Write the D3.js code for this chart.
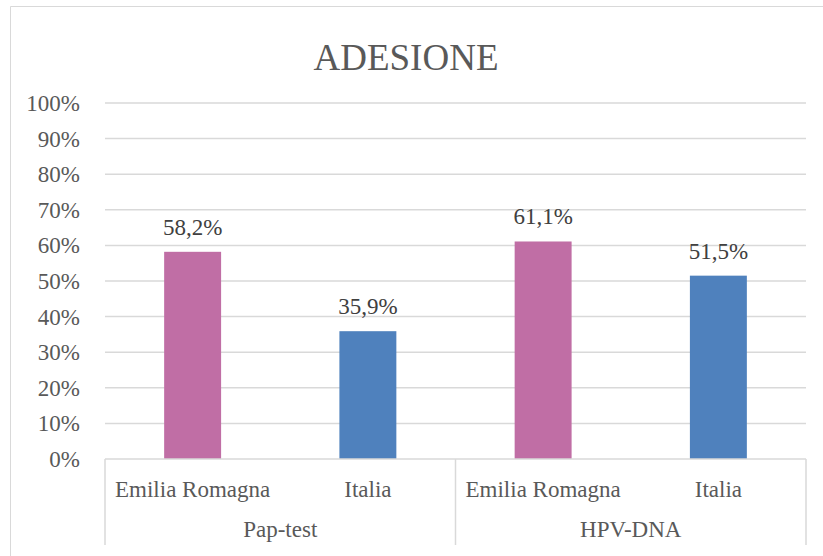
<!DOCTYPE html>
<html>
<head>
<meta charset="utf-8">
<script src="https://cdn.jsdelivr.net/npm/d3@7"></script>
<style>
  body { margin: 0; background: #fff; }
</style>
</head>
<body>
<div id="chart"></div>
<script>
const groups = ["Pap-test", "HPV-DNA"];
const regions = ["Emilia Romagna", "Italia"];
const values = [
    { group: "Pap-test", region: "Emilia Romagna", value: 58.2 },
    { group: "Pap-test", region: "Italia", value: 35.9 },
    { group: "HPV-DNA", region: "Emilia Romagna", value: 61.1 },
    { group: "HPV-DNA", region: "Italia", value: 51.5 }
];
const yTicks = [0, 10, 20, 30, 40, 50, 60, 70, 80, 90, 100];
const colors = { "Emilia Romagna": "#c06ea5", "Italia": "#4f81bd" };

const width = 823, height = 556;
const plotLeft = 105, plotRight = 806, plotTop = 103, plotBottom = 459;
const serif = "'Times New Roman', 'Liberation Serif', 'DejaVu Serif', serif";

const svg = d3.select("#chart").append("svg")
    .attr("width", width)
    .attr("height", height)
    .style("font-family", serif);

// outer frame
svg.append("path")
    .attr("d", `M10.5,${height} V6.5 H${width}`)
    .attr("fill", "none")
    .attr("stroke", "#d9d9d9")
    .attr("stroke-width", 1);

svg.append("text")
    .attr("x", 406)
    .attr("y", 70)
    .attr("text-anchor", "middle")
    .attr("fill", "#595959")
    .style("font-family", serif)
    .style("font-size", "37px")
    .text("ADESIONE");

const x0 = d3.scaleBand().domain(groups).range([plotLeft, plotRight]);
const x1 = d3.scaleBand().domain(regions).range([0, x0.bandwidth()]).paddingInner(0.675).paddingOuter(0.3375);
const y = d3.scaleLinear().domain([0, 100]).range([plotBottom, plotTop]);

// gridlines
svg.append("g")
    .selectAll("line")
    .data(yTicks.slice(1))
    .join("line")
    .attr("x1", plotLeft).attr("x2", plotRight)
    .attr("y1", d => y(d)).attr("y2", d => y(d))
    .attr("stroke", "#d9d9d9")
    .attr("stroke-width", 1.5);

// y labels
svg.append("g")
    .selectAll("text")
    .data(yTicks)
    .join("text")
    .attr("x", 80)
    .attr("y", d => y(d) + 8)
    .attr("text-anchor", "end")
    .attr("fill", "#595959")
    .style("font-family", serif)
    .style("font-size", "23px")
    .text(d => d + "%");

// bars
const bx = d => x0(d.group) + x1(d.region);
svg.append("g")
    .selectAll("rect")
    .data(values)
    .join("rect")
    .attr("x", bx)
    .attr("y", d => y(d.value))
    .attr("width", x1.bandwidth())
    .attr("height", d => y(0) - y(d.value))
    .attr("fill", d => colors[d.region]);

// value labels
svg.append("g")
    .selectAll("text")
    .data(values)
    .join("text")
    .attr("x", d => bx(d) + x1.bandwidth() / 2)
    .attr("y", d => y(d.value) - 17)
    .attr("text-anchor", "middle")
    .attr("fill", "#404040")
    .style("font-family", serif)
    .style("font-size", "23px")
    .text(d => d.value.toFixed(1).replace(".", ",") + "%");

// category axis
const axis = svg.append("g").attr("stroke", "#d9d9d9").attr("stroke-width", 1.5);
axis.append("line")
    .attr("x1", plotLeft).attr("x2", plotRight)
    .attr("y1", plotBottom).attr("y2", plotBottom);
axis.selectAll(".div")
    .data([plotLeft, ...groups.map(g => x0(g) + x0.bandwidth())])
    .join("line")
    .attr("x1", d => d).attr("x2", d => d)
    .attr("y1", plotBottom).attr("y2", 545);

const cats = groups.flatMap(g => regions.map(r => ({ group: g, region: r })));
svg.append("g")
    .selectAll("text")
    .data(cats)
    .join("text")
    .attr("x", d => x0(d.group) + x0.bandwidth() / regions.length * (regions.indexOf(d.region) + 0.5))
    .attr("y", 497)
    .attr("text-anchor", "middle")
    .attr("fill", "#595959")
    .style("font-family", serif)
    .style("font-size", "23px")
    .text(d => d.region);

svg.append("g")
    .selectAll("text")
    .data(groups)
    .join("text")
    .attr("x", d => x0(d) + x0.bandwidth() / 2)
    .attr("y", 537)
    .attr("text-anchor", "middle")
    .attr("fill", "#595959")
    .style("font-family", serif)
    .style("font-size", "23px")
    .text(d => d);
</script>
</body>
</html>
